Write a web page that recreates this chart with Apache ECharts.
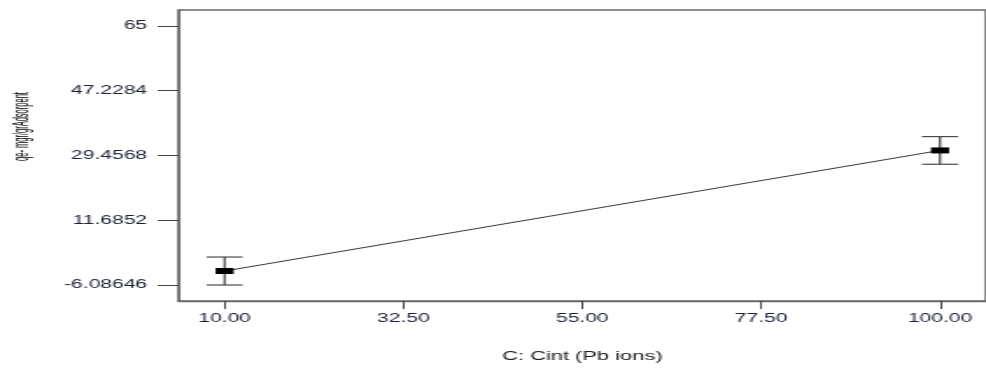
<!DOCTYPE html>
<html>
<head>
<meta charset="utf-8">
<script src="https://cdn.jsdelivr.net/npm/echarts@6/dist/echarts.min.js"></script>
<style>
  html, body { margin: 0; padding: 0; background: #fff; overflow: hidden; }
  #wrap { width: 986px; height: 369px; overflow: hidden; }
  /* The plot is laid out on a narrower canvas and widened, giving the wide lettering of the print */
  #chart { width: 563px; height: 369px; transform: scaleX(1.7513); transform-origin: 0 0; }
</style>
</head>
<body>
<div id="wrap"><div id="chart"></div></div>
<script>
// Factor levels of C: Cint (Pb ions)
const cintLevels = [10, 100];
// Predicted qe and its confidence interval bounds
const qeMean = [-2.25, 30.85];
const qeLower = [-6.09, 27.05];
const qeUpper = [1.59, 34.65];
// Axis tick values
const xTicks = [10, 32.5, 55, 77.5, 100];
const yTicks = [-6.08646, 11.6852, 29.4568, 47.2284, 65];
const yTickLabels = ['-6.08646', '11.6852', '29.4568', '47.2284', '65'];

const FONT = "'Liberation Sans', Arial, sans-serif";
const chart = echarts.init(document.getElementById('chart'));

const meanData = cintLevels.map((x, i) => [x, qeMean[i]]);
const ciData = cintLevels.map((x, i) => [x, qeLower[i], qeUpper[i]]);

function renderInterval(params, api) {
  const x = api.value(0);
  const lo = api.coord([x, api.value(1)]);
  const hi = api.coord([x, api.value(2)]);
  const half = 10.3;
  const style = { stroke: '#4a4a4a', lineWidth: 1.2 };
  return {
    type: 'group',
    children: [
      { type: 'line', shape: { x1: lo[0], y1: lo[1], x2: hi[0], y2: hi[1] }, style: { stroke: '#333', lineWidth: 1.1 } },
      { type: 'line', shape: { x1: hi[0] - half, y1: hi[1], x2: hi[0] + half, y2: hi[1] }, style },
      { type: 'line', shape: { x1: lo[0] - half, y1: lo[1], x2: lo[0] + half, y2: lo[1] }, style }
    ]
  };
}

chart.setOption({
  animation: false,
  backgroundColor: '#fff',
  grid: {
    left: 102, top: 10, width: 467, height: 291,
    show: true, borderColor: '#6a6a6a', borderWidth: 1.6, backgroundColor: 'transparent'
  },
  xAxis: {
    type: 'value',
    min: 4.22, max: 105.78,
    name: 'C: Cint (Pb ions)',
    nameLocation: 'middle',
    nameGap: 49,
    nameTextStyle: { fontFamily: FONT, fontSize: 12.5, color: '#1a1a1a' },
    axisLine: { show: true, onZero: false, lineStyle: { color: '#6a6a6a', width: 1.3 } },
    axisTick: { show: true, length: 8, customValues: xTicks, lineStyle: { color: '#444', width: 1 } },
    axisLabel: {
      customValues: xTicks, margin: 12,
      fontFamily: FONT, fontSize: 12, color: '#1c2033',
      formatter: v => Number(v).toFixed(2)
    },
    splitLine: { show: false }
  },
  yAxis: {
    type: 'value',
    min: -10.478, max: 69.391,
    axisLine: { show: true, onZero: false, lineStyle: { color: '#6a6a6a', width: 1.1 } },
    axisTick: { show: true, length: 12, customValues: yTicks, lineStyle: { color: '#444', width: 1 } },
    axisLabel: {
      customValues: yTicks, margin: 18,
      fontFamily: FONT, fontSize: 12, color: '#1c2033',
      formatter: v => {
        const i = yTicks.findIndex(t => Math.abs(t - v) < 1e-6);
        return i >= 0 ? yTickLabels[i] : String(v);
      }
    },
    splitLine: { show: false }
  },
  graphic: [{
    type: 'text',
    x: 12.4, y: 126.5,
    rotation: Math.PI / 2,
    scaleX: 0.6,
    style: {
      text: 'qe- mgr/grAdsorpent',
      fontFamily: FONT,
      fontSize: 12.5,
      fill: '#000',
      align: 'center',
      verticalAlign: 'middle'
    }
  }],
  series: [
    {
      type: 'custom',
      renderItem: renderInterval,
      data: ciData,
      encode: { x: 0, y: [1, 2] },
      z: 2
    },
    {
      type: 'line',
      data: meanData,
      symbol: 'rect',
      symbolSize: [10.3, 6],
      itemStyle: { color: '#000' },
      lineStyle: { color: '#3a3a3a', width: 1 },
      z: 3
    }
  ]
});
</script>
</body>
</html>
